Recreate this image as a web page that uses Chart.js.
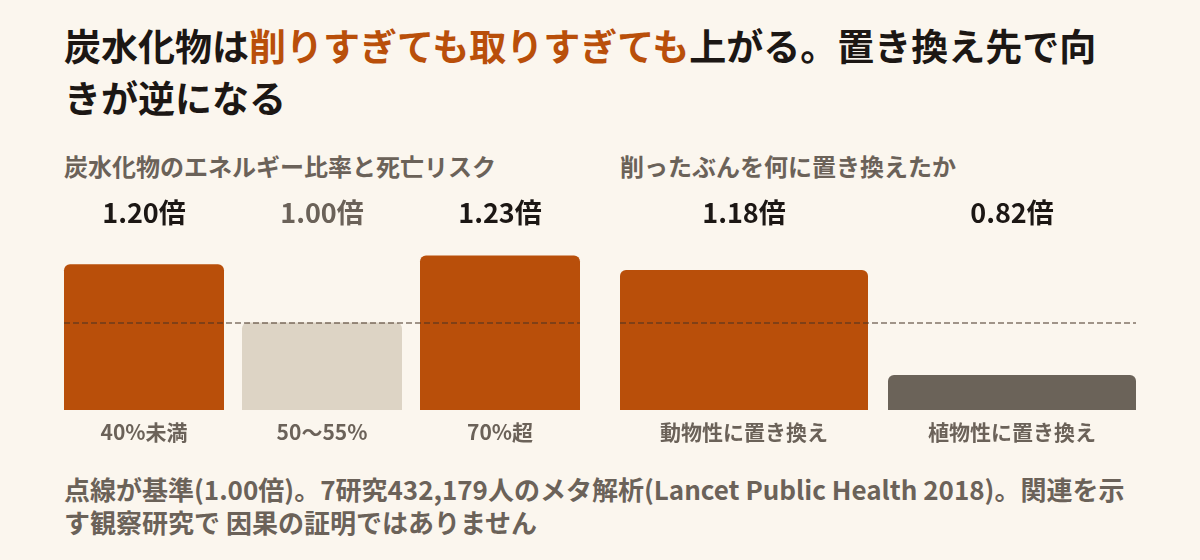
<!DOCTYPE html>
<html lang="ja">
<head>
<meta charset="utf-8">
<title>炭水化物と死亡リスク</title>
<script src="https://cdn.jsdelivr.net/npm/chart.js@4.4.1/dist/chart.umd.min.js"></script>
<style>
    body {
        margin: 0;
        width: 1200px;
        height: 560px;
        position: relative;
        overflow: hidden;
        background: #fbf6ee;
        font-family: "Noto Sans CJK JP", "Noto Sans", sans-serif;
    }
    h1 {
        position: absolute;
        left: 64px;
        top: 19px;
        margin: 0;
        font-size: 37px;
        line-height: 52px;
        font-weight: 700;
        color: #1c1714;
        white-space: nowrap;
    }
    h1 .accent { color: #b94f0a; }
    .subtitle {
        position: absolute;
        top: 150px;
        margin: 0;
        font-size: 24px;
        line-height: 32px;
        font-weight: 700;
        color: #6b6259;
        white-space: nowrap;
    }
    .panel { position: absolute; top: 190px; height: 262px; }
    #leftPanel { left: 55px; width: 534px; }
    #rightPanel { left: 610px; width: 536px; }
    .note {
        position: absolute;
        left: 64px;
        top: 472px;
        margin: 0;
        font-size: 26px;
        line-height: 33px;
        font-weight: 700;
        color: #6b6259;
        white-space: nowrap;
    }
</style>
</head>
<body>
<h1>炭水化物は<span class="accent">削りすぎても取りすぎても</span>上がる。置き換え先で向<br>きが逆になる</h1>
<p class="subtitle" style="left:64px">炭水化物のエネルギー比率と死亡リスク</p>
<p class="subtitle" style="left:620px">削ったぶんを何に置き換えたか</p>
<div class="panel" id="leftPanel"><canvas id="intakeChart"></canvas></div>
<div class="panel" id="rightPanel"><canvas id="swapChart"></canvas></div>
<p class="note">点線が基準(1.00倍)。7研究432,179人のメタ解析(Lancet Public Health 2018)。関連を示<br>す観察研究で 因果の証明ではありません</p>

<script>
// Data
var intakeLabels = ['40%未満', '50〜55%', '70%超'];
var intakeRatios = [1.20, 1.00, 1.23];
var swapLabels = ['動物性に置き換え', '植物性に置き換え'];
var swapRatios = [1.18, 0.82];
var baselineRatio = 1.00;
var axisMin = 0.7;
var axisMax = 1.3;

var ORANGE = '#b94f0a';
var BEIGE = '#ddd4c5';
var SLATE = '#6b6359';
var INK = '#1c1714';
var GRAY = '#6b6259';
var FONT = '"Noto Sans CJK JP", "Noto Sans", sans-serif';

function barColor(v) {
    if (v > baselineRatio) return ORANGE;
    if (v < baselineRatio) return SLATE;
    return BEIGE;
}

// dashed baseline + "x.xx倍" labels over the bars
var ratioPlugin = {
    id: 'ratioPlugin',
    afterDatasetsDraw: function(chart) {
        var ctx = chart.ctx;
        var meta = chart.getDatasetMeta(0);
        var values = chart.data.datasets[0].data;
        var y = Math.round(chart.scales.y.getPixelForValue(baselineRatio));
        var first = meta.data[0];
        var last = meta.data[meta.data.length - 1];

        ctx.save();
        ctx.setLineDash([6, 3]);
        ctx.lineWidth = 2;
        ctx.strokeStyle = 'rgba(70, 50, 35, 0.5)';
        ctx.beginPath();
        ctx.moveTo(first.x - first.width / 2, y);
        ctx.lineTo(last.x + last.width / 2, y);
        ctx.stroke();
        ctx.setLineDash([]);

        ctx.font = 'bold 27px ' + FONT;
        ctx.textAlign = 'center';
        ctx.textBaseline = 'middle';
        meta.data.forEach(function(bar, i) {
            ctx.fillStyle = values[i] === baselineRatio ? GRAY : INK;
            ctx.fillText(values[i].toFixed(2) + '倍', bar.x, chart.chartArea.top - 22);
        });
        ctx.restore();
    }
};

function makeChart(id, labels, values, barPct) {
    return new Chart(document.getElementById(id), {
        type: 'bar',
        data: {
            labels: labels,
            datasets: [{
                data: values,
                backgroundColor: values.map(barColor),
                borderRadius: 6,
                barPercentage: barPct,
                categoryPercentage: 1
            }]
        },
        options: {
            responsive: true,
            maintainAspectRatio: false,
            animation: false,
            layout: { padding: { top: 45, left: 0, right: 0, bottom: 0 } },
            plugins: {
                legend: { display: false },
                tooltip: { enabled: false }
            },
            scales: {
                x: {
                    grid: { display: false, drawTicks: false },
                    border: { display: false },
                    ticks: {
                        color: GRAY,
                        font: { family: FONT, size: 21, weight: 'bold' },
                        padding: 9
                    },
                    afterFit: function(scale) { scale.height = 42; }
                },
                y: {
                    display: false,
                    min: axisMin,
                    max: axisMax
                }
            }
        },
        plugins: [ratioPlugin]
    });
}

makeChart('intakeChart', intakeLabels, intakeRatios, 160 / 178);
makeChart('swapChart', swapLabels, swapRatios, 248 / 268);
</script>
</body>
</html>
